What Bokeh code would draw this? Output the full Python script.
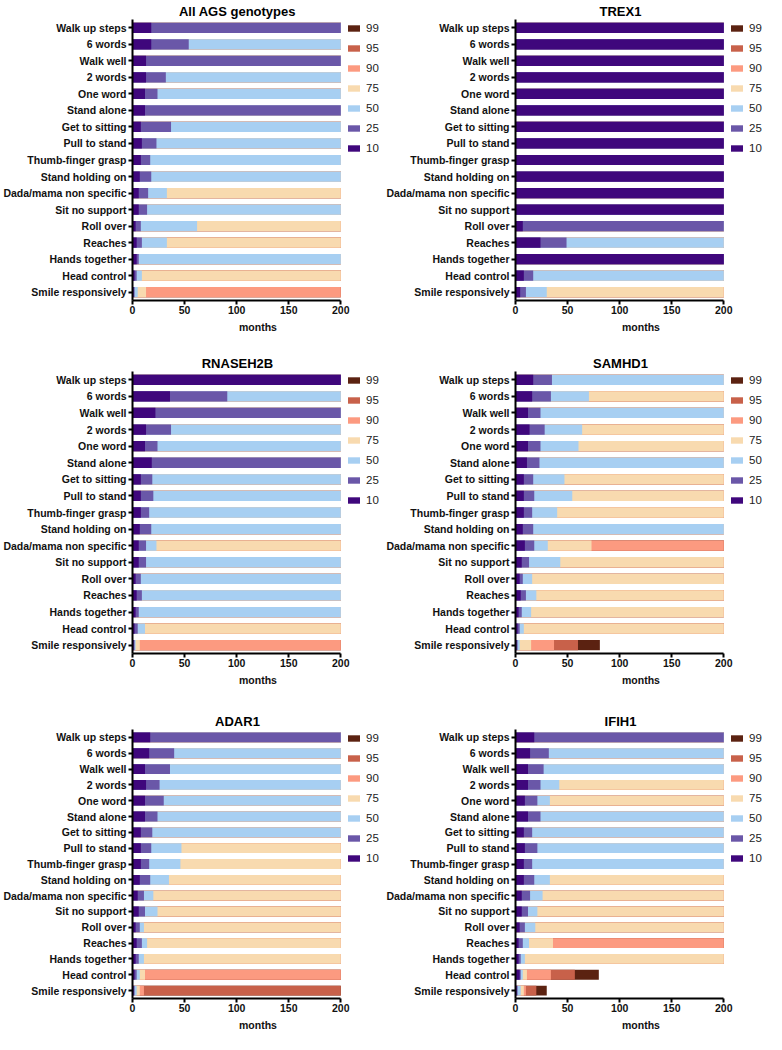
from bokeh.plotting import figure
from bokeh.models import FactorRange, Range1d, ColumnDataSource, Legend, LegendItem, FixedTicker
from bokeh.layouts import gridplot
from bokeh.embed import file_html
from bokeh.resources import INLINE

MILESTONES = ["Walk up steps", "6 words", "Walk well", "2 words", "One word", "Stand alone",
              "Get to sitting", "Pull to stand", "Thumb-finger grasp", "Stand holding on",
              "Dada/mama non specific", "Sit no support", "Roll over", "Reaches",
              "Hands together", "Head control", "Smile responsively"]
PERCENTILES = ["10", "25", "50", "75", "90", "95", "99"]
COLORS = ["#3f077c", "#6a57a8", "#a7cff2", "#f8daaf", "#fc9a80", "#c8614a", "#5b2211"]
X_TICKS = [0, 50, 100, 150, 200]
TITLES = ["All AGS genotypes", "TREX1", "RNASEH2B", "SAMHD1", "ADAR1", "IFIH1"]

# months at which each percentile reaches the milestone (p10, p25, p50, p75, p90, p95, p99); 200 = not reached
ALL_AGS = [
    [18, 200, 200, 200, 200, 200, 200],
    [18, 54, 200, 200, 200, 200, 200],
    [13, 200, 200, 200, 200, 200, 200],
    [13, 32, 200, 200, 200, 200, 200],
    [12, 24, 200, 200, 200, 200, 200],
    [12, 200, 200, 200, 200, 200, 200],
    [8, 37, 200, 200, 200, 200, 200],
    [9, 23, 200, 200, 200, 200, 200],
    [8, 17, 200, 200, 200, 200, 200],
    [7, 18, 200, 200, 200, 200, 200],
    [6, 15, 33, 200, 200, 200, 200],
    [6, 14, 200, 200, 200, 200, 200],
    [3, 8, 62, 200, 200, 200, 200],
    [4, 9, 33, 200, 200, 200, 200],
    [4, 6, 200, 200, 200, 200, 200],
    [2, 4, 9, 200, 200, 200, 200],
    [1, 2, 5, 13, 200, 200, 200],
]
TREX1 = [
    [200, 200, 200, 200, 200, 200, 200],
    [200, 200, 200, 200, 200, 200, 200],
    [200, 200, 200, 200, 200, 200, 200],
    [200, 200, 200, 200, 200, 200, 200],
    [200, 200, 200, 200, 200, 200, 200],
    [200, 200, 200, 200, 200, 200, 200],
    [200, 200, 200, 200, 200, 200, 200],
    [200, 200, 200, 200, 200, 200, 200],
    [200, 200, 200, 200, 200, 200, 200],
    [200, 200, 200, 200, 200, 200, 200],
    [200, 200, 200, 200, 200, 200, 200],
    [200, 200, 200, 200, 200, 200, 200],
    [7, 200, 200, 200, 200, 200, 200],
    [24, 49, 200, 200, 200, 200, 200],
    [200, 200, 200, 200, 200, 200, 200],
    [8, 17, 200, 200, 200, 200, 200],
    [4.5, 10, 30, 200, 200, 200, 200],
]
RNASEH2B = [
    [200, 200, 200, 200, 200, 200, 200],
    [36, 91, 200, 200, 200, 200, 200],
    [22, 200, 200, 200, 200, 200, 200],
    [13, 37, 200, 200, 200, 200, 200],
    [12, 24, 200, 200, 200, 200, 200],
    [18.5, 200, 200, 200, 200, 200, 200],
    [8, 19, 200, 200, 200, 200, 200],
    [8, 20, 200, 200, 200, 200, 200],
    [8, 16, 200, 200, 200, 200, 200],
    [7, 18, 200, 200, 200, 200, 200],
    [6, 13, 23, 200, 200, 200, 200],
    [6, 13, 200, 200, 200, 200, 200],
    [3, 8, 200, 200, 200, 200, 200],
    [4, 9, 200, 200, 200, 200, 200],
    [3, 6, 200, 200, 200, 200, 200],
    [2, 5, 12, 200, 200, 200, 200],
    [1, 2, 3, 7, 200, 200, 200],
]
SAMHD1 = [
    [17, 35, 200, 200, 200, 200, 200],
    [16, 34, 70.5, 200, 200, 200, 200],
    [12, 24, 200, 200, 200, 200, 200],
    [13.5, 28, 64, 200, 200, 200, 200],
    [12, 24, 60.5, 200, 200, 200, 200],
    [11, 23, 200, 200, 200, 200, 200],
    [8, 17, 47, 200, 200, 200, 200],
    [8, 18, 54.5, 200, 200, 200, 200],
    [8, 16, 40, 200, 200, 200, 200],
    [7, 17, 200, 200, 200, 200, 200],
    [9, 18, 31, 73, 200, 200, 200],
    [6, 13, 43, 200, 200, 200, 200],
    [4, 7, 16, 200, 200, 200, 200],
    [5, 10, 20, 200, 200, 200, 200],
    [3, 6, 15, 200, 200, 200, 200],
    [2, 4, 8, 200, 200, 200, 200],
    [1, 2, 4, 15, 37, 60, 81],
]
ADAR1 = [
    [17, 200, 200, 200, 200, 200, 200],
    [16, 40, 200, 200, 200, 200, 200],
    [12, 36, 200, 200, 200, 200, 200],
    [13, 26, 200, 200, 200, 200, 200],
    [12, 30, 200, 200, 200, 200, 200],
    [12, 24, 200, 200, 200, 200, 200],
    [8, 19, 200, 200, 200, 200, 200],
    [8, 18, 47, 200, 200, 200, 200],
    [8, 16, 46, 200, 200, 200, 200],
    [7, 17, 35, 200, 200, 200, 200],
    [5, 11, 20, 200, 200, 200, 200],
    [6, 12, 24, 200, 200, 200, 200],
    [3, 7, 11, 200, 200, 200, 200],
    [4, 9, 14, 200, 200, 200, 200],
    [3, 6, 11, 200, 200, 200, 200],
    [2, 4, 7, 12, 200, 200, 200],
    [1, 2, 4, 7, 11, 200, 200],
]
IFIH1 = [
    [18, 200, 200, 200, 200, 200, 200],
    [14, 32, 200, 200, 200, 200, 200],
    [12, 27, 200, 200, 200, 200, 200],
    [12, 24, 42, 200, 200, 200, 200],
    [9, 21, 33, 200, 200, 200, 200],
    [12, 24, 200, 200, 200, 200, 200],
    [8, 16, 200, 200, 200, 200, 200],
    [9, 21, 200, 200, 200, 200, 200],
    [8, 16, 200, 200, 200, 200, 200],
    [8, 18, 33, 200, 200, 200, 200],
    [6, 14, 26, 200, 200, 200, 200],
    [6, 12, 21, 200, 200, 200, 200],
    [4, 9, 19, 200, 200, 200, 200],
    [3, 7, 13, 36, 200, 200, 200],
    [3, 5, 9, 200, 200, 200, 200],
    [4, 5, 7, 11, 34, 57, 80],
    [1, 2, 5, 8, 10, 20, 30],
]
PANELS = [ALL_AGS, TREX1, RNASEH2B, SAMHD1, ADAR1, IFIH1]

FONT = "Liberation Sans"
FIG_W = 383
LEFT = 130
RIGHT = 0
ROW_H = [352, 358, 324]
FRAME_H = [283, 284, 271]
TOP = 17
X_END = 241.0   # frame extends past 200 to leave room for the legend
TITLE_PX = 13

# Liberation Sans Bold advance widths (1/1000 em) for centring the titles over the 0-200 span
_BOLD_W = {" ": 278, "A": 722, "B": 722, "D": 722, "E": 667, "F": 611, "G": 778, "H": 722,
           "I": 278, "M": 833, "N": 722, "R": 722, "S": 667, "T": 611, "X": 667, "1": 556,
           "2": 556, "e": 556, "g": 611, "l": 278, "n": 611, "o": 611, "p": 611, "s": 556,
           "t": 333, "y": 556}


def text_width(s, px):
    return sum(_BOLD_W.get(c, 600) for c in s) * px / 1000.0


def make_panel(title, rows, height, frame_h):
    data = {"milestone": MILESTONES}
    for i, k in enumerate(PERCENTILES):
        data["p" + k] = [r[i] for r in rows]
    src = ColumnDataSource(data)
    p = figure(width=FIG_W, height=height,
               y_range=FactorRange(factors=MILESTONES[::-1]),
               x_range=Range1d(0, X_END),
               output_backend="svg", toolbar_location=None,
               min_border_left=LEFT, min_border_right=RIGHT,
               min_border_top=TOP, min_border_bottom=height - TOP - frame_h)
    items = []
    for i in range(len(PERCENTILES) - 1, -1, -1):
        k = PERCENTILES[i]
        r = p.hbar(y="milestone", left=0, right="p" + k, height=0.62, source=src,
                   fill_color=COLORS[i], line_color=None)
        items.append(LegendItem(label=k, renderers=[r]))
    legend = Legend(items=items, location=(214, frame_h - 137), orientation="vertical",
                    margin=0, padding=0, spacing=7, glyph_width=15, glyph_height=8,
                    label_height=13, label_standoff=5,
                    label_text_font=FONT, label_text_font_size="11.5px",
                    label_text_color="#222222",
                    border_line_color=None, background_fill_alpha=0)
    p.add_layout(legend, "center")

    frame_w = FIG_W - LEFT - RIGHT
    span_px = frame_w * 200.0 / X_END
    p.title.text = title
    p.title.align = "left"
    p.title.offset = span_px / 2 - text_width(title, TITLE_PX) / 2
    p.title.text_font = FONT
    p.title.text_font_size = "%dpx" % TITLE_PX
    p.title.text_font_style = "bold"
    p.title.text_color = "#000000"
    p.title.standoff = 2

    p.xgrid.visible = False
    p.ygrid.visible = False
    p.outline_line_color = None

    for ax in (p.xaxis, p.yaxis):
        ax.axis_line_width = 2
        ax.axis_line_color = "#000000"
        ax.major_tick_line_width = 2
        ax.major_tick_line_color = "#000000"
        ax.major_tick_out = 4
        ax.major_tick_in = 0
        ax.minor_tick_line_color = None
        ax.major_label_text_font = FONT
        ax.major_label_text_font_size = "10.5px"
        ax.major_label_text_font_style = "bold"
        ax.major_label_text_color = "#111111"
    p.xaxis.ticker = FixedTicker(ticks=X_TICKS)
    p.xaxis.bounds = (0, 200)
    p.xaxis.major_label_standoff = 1
    p.yaxis.major_label_standoff = 2
    p.xaxis.axis_label = "months"
    p.xaxis.axis_label_text_font = FONT
    p.xaxis.axis_label_text_font_size = "10.5px"
    p.xaxis.axis_label_text_font_style = "bold"
    p.xaxis.axis_label_text_color = "#111111"
    p.xaxis.axis_label_standoff = 4
    return p


figs = []
for idx, (t, rows) in enumerate(zip(TITLES, PANELS)):
    r = idx // 2
    figs.append(make_panel(t, rows, ROW_H[r], FRAME_H[r]))

grid = gridplot([[figs[0], figs[1]], [figs[2], figs[3]], [figs[4], figs[5]]],
                toolbar_location=None)

open("out.html", "w").write(file_html(grid, INLINE))
